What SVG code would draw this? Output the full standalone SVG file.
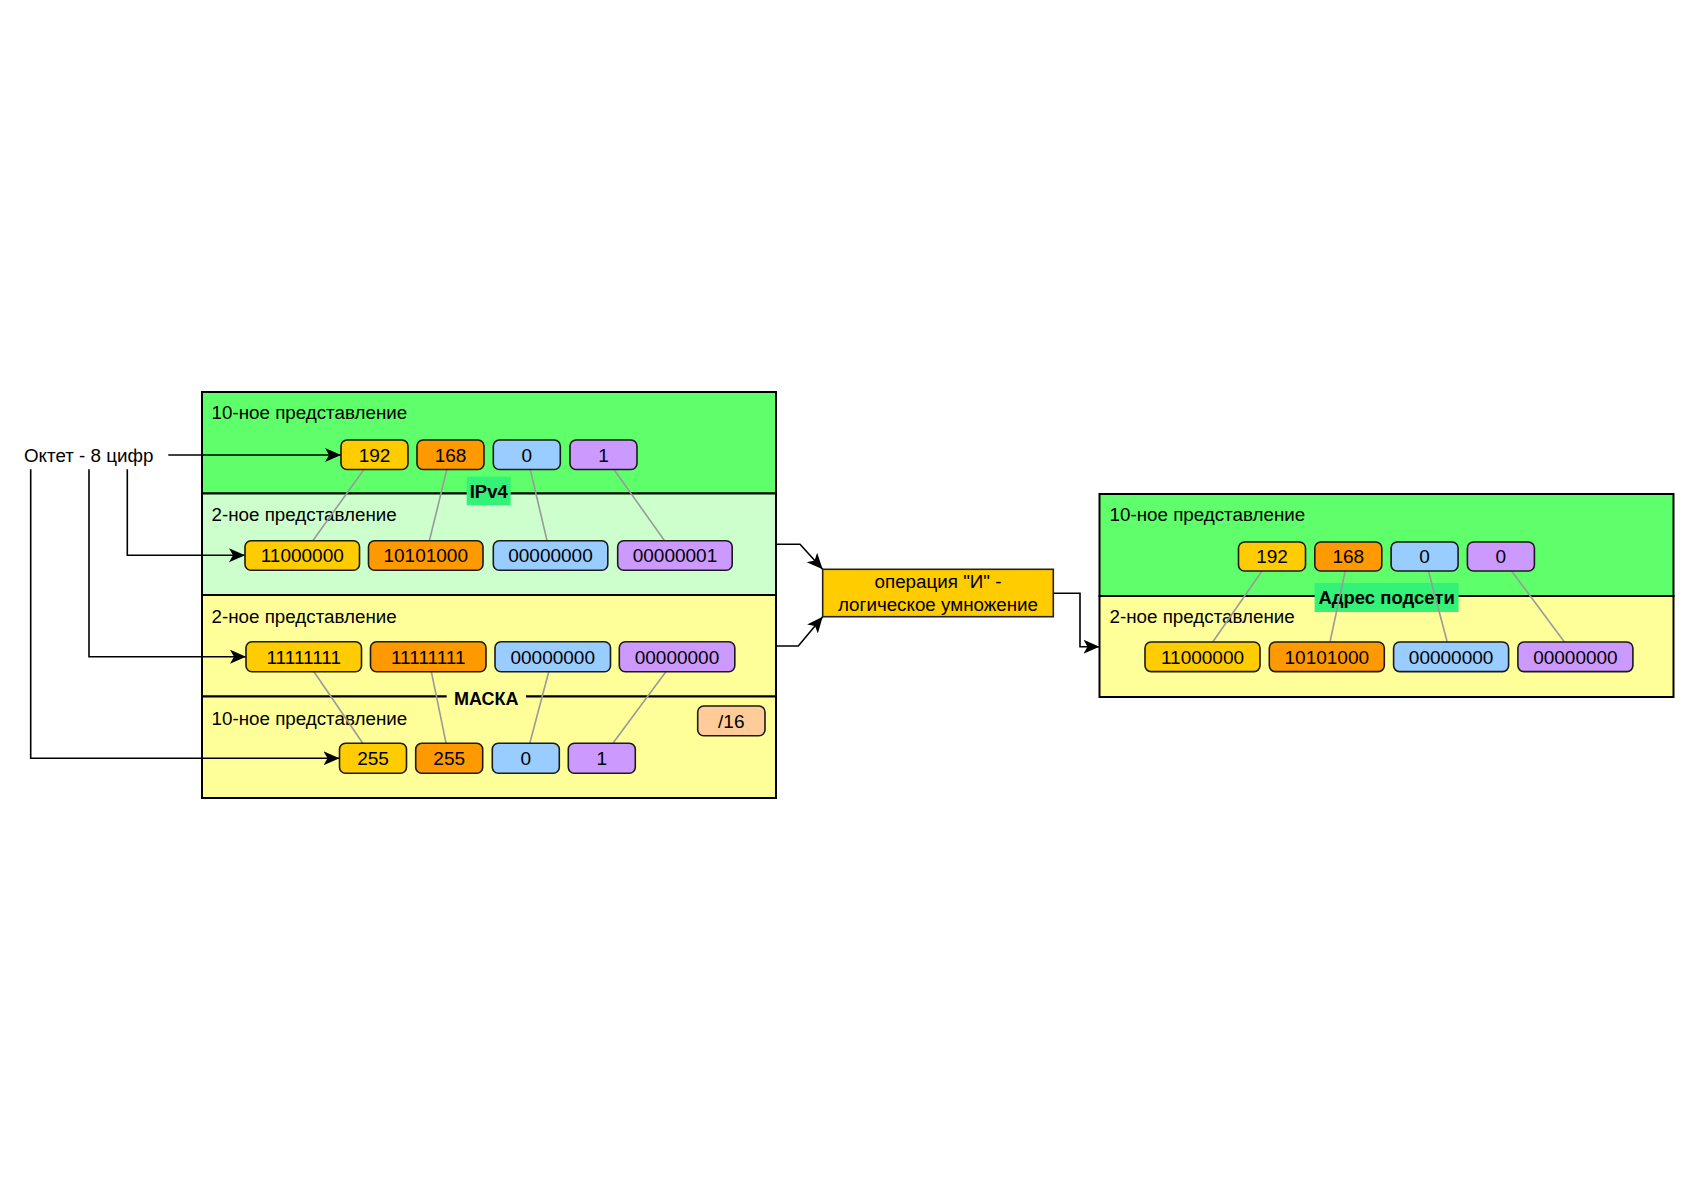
<svg xmlns="http://www.w3.org/2000/svg" width="1684" height="1191" viewBox="0 0 1684 1191">
<style>
text{font-family:"Liberation Sans",Arial,sans-serif;fill:#000}
.hdr{font-size:18.8px}
.bt{font-size:19px;text-anchor:middle}
.lbl{font-size:18.5px;font-weight:bold;text-anchor:middle}
.box{stroke:#1a1a1a;stroke-width:1.6}
.sec{stroke:#000;stroke-width:2}
.c1{fill:#FFCC00}.c2{fill:#FF9900}.c3{fill:#99CCFF}.c4{fill:#CC99FF}
.gl{stroke:#9a9a9a;stroke-width:1.6;fill:none}
.ar{stroke:#000;stroke-width:1.6;fill:none}
</style>
<defs>
<marker id="arr" markerUnits="userSpaceOnUse" markerWidth="17" markerHeight="15" refX="16" refY="7" orient="auto">
<path d="M0,0 L16,7 L0,14 L4,7 Z" fill="#000"/>
</marker>
</defs>
<rect width="1684" height="1191" fill="#fff"/>

<g id="panel-ipv4">
<rect x="202" y="392" width="574" height="101.5" fill="#5EFF6A" class="sec"/>
<rect x="202" y="493.5" width="574" height="101.5" fill="#CCFFCC" class="sec"/>
<text class="hdr" x="211.5" y="419">10-ное представление</text>
<text class="hdr" x="211.5" y="521">2-ное представление</text>
<rect x="466.7" y="476.7" width="44" height="28.6" fill="#33F277"/>
<text class="lbl" x="488.7" y="497.5">IPv4</text>
</g>

<g id="panel-mask">
<rect x="202" y="595" width="574" height="101.5" fill="#FFFF99" class="sec"/>
<rect x="202" y="696.5" width="574" height="101.5" fill="#FFFF99" class="sec"/>
<text class="hdr" x="211.5" y="623">2-ное представление</text>
<text class="hdr" x="211.5" y="725">10-ное представление</text>
<rect x="446.7" y="685" width="79.3" height="24" fill="#FFFF99"/>
<text class="lbl" x="486.3" y="705" style="font-size:18px">МАСКА</text>
</g>

<g id="panel-subnet">
<rect x="1099.5" y="494" width="574" height="102" fill="#5EFF6A" class="sec"/>
<rect x="1099.5" y="596" width="574" height="101" fill="#FFFF99" class="sec"/>
<text class="hdr" x="1109.5" y="521">10-ное представление</text>
<text class="hdr" x="1109.5" y="623">2-ное представление</text>
<rect x="1314.6" y="583" width="144" height="29" fill="#33F277"/>
<text class="lbl" x="1386.6" y="604">Адрес подсети</text>
</g>

<g id="connectors">
<line class="gl" x1="374.5" y1="454.75" x2="302.25" y2="555.45"/>
<line class="gl" x1="450.5" y1="454.75" x2="425.75" y2="555.45"/>
<line class="gl" x1="526.8" y1="454.75" x2="550.5" y2="555.45"/>
<line class="gl" x1="603.5" y1="454.75" x2="675" y2="555.45"/>
<line class="gl" x1="303.75" y1="656.7" x2="373" y2="758.3"/>
<line class="gl" x1="428.25" y1="656.7" x2="449.2" y2="758.3"/>
<line class="gl" x1="552.75" y1="656.7" x2="525.8" y2="758.3"/>
<line class="gl" x1="677" y1="656.7" x2="601.8" y2="758.3"/>
<line class="gl" x1="1272" y1="556.5" x2="1202.5" y2="656.8"/>
<line class="gl" x1="1348.3" y1="556.5" x2="1326.8" y2="656.8"/>
<line class="gl" x1="1424.6" y1="556.5" x2="1451.1" y2="656.8"/>
<line class="gl" x1="1500.9" y1="556.5" x2="1575.4" y2="656.8"/>
<path class="ar" d="M168.3,455 L341,455" marker-end="url(#arr)"/>
<path class="ar" d="M127.3,469.3 L127.3,555.3 L245,555.3" marker-end="url(#arr)"/>
<path class="ar" d="M89,469.3 L89,656.7 L246,656.7" marker-end="url(#arr)"/>
<path class="ar" d="M30.7,469.3 L30.7,758.3 L339.5,758.3" marker-end="url(#arr)"/>
<path class="ar" d="M776,544.3 L800,544.3 L822.7,569.3" marker-end="url(#arr)"/>
<path class="ar" d="M776,646 L798.3,646 L822.7,616.7" marker-end="url(#arr)"/>
<path class="ar" d="M1053.3,593.3 L1080,593.3 L1080,646.7 L1099.5,646.7" marker-end="url(#arr)"/>
</g>

<g id="octet-label">
<text x="24" y="461.5" style="font-size:18.8px">Октет - 8 цифр</text>
</g>

<g id="ipv4-dec">
<rect class="box c1" x="341" y="440" width="67" height="29.5" rx="6"/><text class="bt" x="374.5" y="461.5">192</text>
<rect class="box c2" x="417" y="440" width="67" height="29.5" rx="6"/><text class="bt" x="450.5" y="461.5">168</text>
<rect class="box c3" x="493.3" y="440" width="67" height="29.5" rx="6"/><text class="bt" x="526.8" y="461.5">0</text>
<rect class="box c4" x="570" y="440" width="67" height="29.5" rx="6"/><text class="bt" x="603.5" y="461.5">1</text>
</g>
<g id="ipv4-bin">
<rect class="box c1" x="245" y="540.7" width="114.5" height="29.5" rx="6"/><text class="bt" x="302.25" y="562.2">11000000</text>
<rect class="box c2" x="368.5" y="540.7" width="114.5" height="29.5" rx="6"/><text class="bt" x="425.75" y="562.2">10101000</text>
<rect class="box c3" x="493.3" y="540.7" width="114.5" height="29.5" rx="6"/><text class="bt" x="550.5" y="562.2">00000000</text>
<rect class="box c4" x="617.7" y="540.7" width="114.5" height="29.5" rx="6"/><text class="bt" x="675" y="562.2">00000001</text>
</g>
<g id="mask-bin">
<rect class="box c1" x="246" y="641.7" width="115.5" height="30" rx="6"/><text class="bt" x="303.75" y="663.5">11111111</text>
<rect class="box c2" x="370.5" y="641.7" width="115.5" height="30" rx="6"/><text class="bt" x="428.25" y="663.5">11111111</text>
<rect class="box c3" x="495" y="641.7" width="115.5" height="30" rx="6"/><text class="bt" x="552.75" y="663.5">00000000</text>
<rect class="box c4" x="619.3" y="641.7" width="115.5" height="30" rx="6"/><text class="bt" x="677" y="663.5">00000000</text>
</g>
<g id="mask-dec">
<rect class="box c1" x="339.5" y="743.3" width="67" height="30" rx="6"/><text class="bt" x="373" y="765">255</text>
<rect class="box c2" x="415.7" y="743.3" width="67" height="30" rx="6"/><text class="bt" x="449.2" y="765">255</text>
<rect class="box c3" x="492.3" y="743.3" width="67" height="30" rx="6"/><text class="bt" x="525.8" y="765">0</text>
<rect class="box c4" x="568.3" y="743.3" width="67" height="30" rx="6"/><text class="bt" x="601.8" y="765">1</text>
</g>
<g id="prefix">
<rect class="box" x="697.7" y="706" width="67.3" height="29.7" rx="6" fill="#FFCC99"/><text class="bt" x="731.3" y="727.5">/16</text>
</g>

<g id="operation">
<rect x="822.7" y="569.3" width="230.6" height="47.4" fill="#FFCC00" stroke="#222" stroke-width="1.6"/>
<text class="bt" x="938" y="588.3" style="font-size:18.8px">операция "И" -</text>
<text class="bt" x="938" y="611" style="font-size:18.8px">логическое умножение</text>
</g>

<g id="subnet-dec">
<rect class="box c1" x="1238.5" y="542" width="67" height="29" rx="6"/><text class="bt" x="1272" y="563.3">192</text>
<rect class="box c2" x="1314.8" y="542" width="67" height="29" rx="6"/><text class="bt" x="1348.3" y="563.3">168</text>
<rect class="box c3" x="1391.1" y="542" width="67" height="29" rx="6"/><text class="bt" x="1424.6" y="563.3">0</text>
<rect class="box c4" x="1467.4" y="542" width="67" height="29" rx="6"/><text class="bt" x="1500.9" y="563.3">0</text>
</g>
<g id="subnet-bin">
<rect class="box c1" x="1145" y="642" width="115" height="29.6" rx="6"/><text class="bt" x="1202.5" y="663.6">11000000</text>
<rect class="box c2" x="1269.3" y="642" width="115" height="29.6" rx="6"/><text class="bt" x="1326.8" y="663.6">10101000</text>
<rect class="box c3" x="1393.6" y="642" width="115" height="29.6" rx="6"/><text class="bt" x="1451.1" y="663.6">00000000</text>
<rect class="box c4" x="1517.9" y="642" width="115" height="29.6" rx="6"/><text class="bt" x="1575.4" y="663.6">00000000</text>
</g>
</svg>
